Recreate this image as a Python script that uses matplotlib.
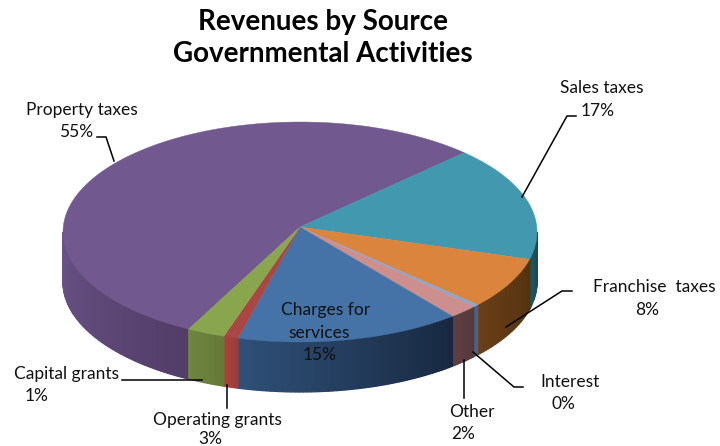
import numpy as np
import matplotlib
matplotlib.use('Agg')
import matplotlib.pyplot as plt

# slices clockwise, starting at the purple / green border
slice_names = ['Property taxes', 'Sales taxes', 'Franchise taxes', 'Interest', 'Other',
               'Charges for services', 'Red slice', 'Green slice']
slice_values = [55, 17, 7.6, 0.4, 2, 15.5, 1, 2.6]

top_colors = ['#71588f', '#4198af', '#db843d', '#93a5c6', '#cc8f8d', '#4572a7', '#aa4643', '#89a54e']
# side shading, colour at left end and right end of the visible wall
side_left = ['#6a5488', '#1f5866', '#6a3e18', '#4c6284', '#5c3f42', '#2f5078', '#a8423f', '#6f8440']
side_right = ['#523d68', '#1a4a56', '#54330f', '#4c6284', '#553a3c', '#182840', '#9c3a38', '#667a38']

title_lines = 'Revenues by Source\nGovernmental Activities'

# text, x, y (pixels)
labels = [
    ('Property taxes', 82, 110), ('55%', 76, 132),
    ('Sales taxes', 602, 88), ('17%', 598, 111),
    ('Franchise  taxes', 654, 287), ('8%', 647, 310),
    ('Interest', 570, 382), ('0%', 563, 404),
    ('Other', 472, 412), ('2%', 463, 434),
    ('Operating grants', 217, 420), ('3%', 210, 439),
    ('Capital grants', 67, 374), ('1%', 37, 396),
    ('Charges for', 326, 310), ('services', 319, 333), ('15%', 320, 355),
]

leaders = [
    ([97, 106, 114], [137, 137, 161]),
    ([576, 567, 522], [116, 116, 197]),
    ([572, 562, 506], [291, 291, 327]),
    ([523, 514, 473], [387, 387, 352]),
    ([464, 464], [398, 360]),
    ([227, 227], [408, 385]),
    ([122, 202], [380, 380]),
]

cx, cy = 300, 232
hub_y = 227
rx, ry = 237, 110
depth = 50
start = 242


def px(a):
    return cx + rx * np.cos(np.radians(a))


def py(a):
    return cy - ry * np.sin(np.radians(a))


def mix(c1, c2, t):
    a = np.array(matplotlib.colors.to_rgb(c1))
    b = np.array(matplotlib.colors.to_rgb(c2))
    return a + (b - a) * t


fig = plt.figure(figsize=(7.2, 4.46), dpi=100)
ax = fig.add_axes([0, 0, 1, 1])
ax.set_xlim(0, 720)
ax.set_ylim(446, 0)
ax.axis('off')

sweeps = np.array(slice_values) / sum(slice_values) * 360
ends = start - np.cumsum(sweeps)
starts = ends + sweeps

# front wall first, thin strips so it can be shaded
for i in range(len(slice_values)):
    hi, lo = starts[i], ends[i]
    # the visible wall is the part between 180 and 360 degrees
    while hi < 180:
        hi += 360
        lo += 360
    for shift in (0, -360):
        a1 = max(lo + shift, -180)
        a2 = min(hi + shift, 0)
        if a2 <= a1:
            continue
        edges = np.arange(a1, a2, 1.0)
        edges = np.append(edges, a2)
        for e1, e2 in zip(edges[:-1], edges[1:]):
            t = (e1 - a1) / max(a2 - a1, 1e-6)
            col = mix(side_left[i], side_right[i], t)
            xs = [px(e1), px(e2), px(e2), px(e1)]
            ys = [py(e1), py(e2), py(e2) + depth, py(e1) + depth]
            ax.fill(xs, ys, facecolor=col, edgecolor=col, lw=0.9, zorder=2)

# top face
for i in range(len(slice_values)):
    angles = np.linspace(starts[i], ends[i], 120)
    xs = np.r_[cx, px(angles)]
    ys = np.r_[hub_y, py(angles)]
    ax.fill(xs, ys, color=top_colors[i], lw=0.3, zorder=3)

for xs, ys in leaders:
    ax.plot(xs, ys, color='black', lw=1.1, zorder=4, solid_joinstyle='miter')

for text, x, y in labels:
    ax.text(x, y, text, fontsize=12.5, family='Lato', ha='center', va='center',
            color='#111111', zorder=5, clip_on=False)

ax.text(323, 38, title_lines, fontsize=20, family='Lato', fontweight='bold',
        ha='center', va='center', linespacing=1.3, color='black', zorder=5)

fig.savefig('out.png', dpi=100)
